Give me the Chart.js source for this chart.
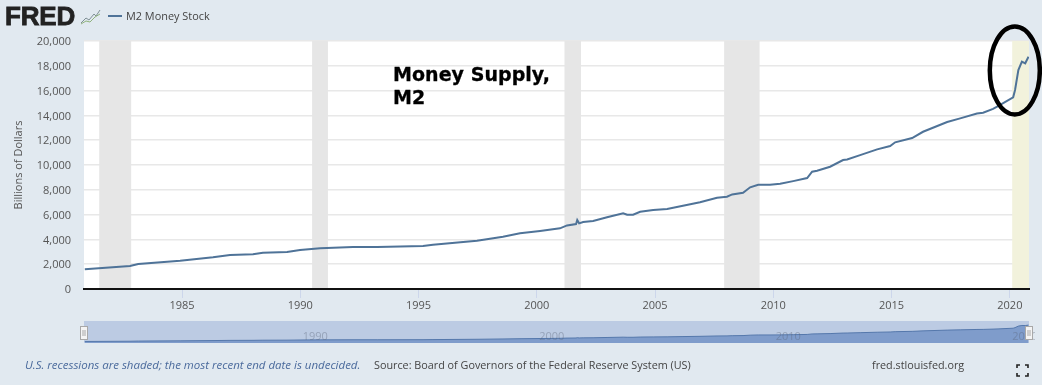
<!DOCTYPE html>
<html>
<head>
<meta charset="utf-8">
<title>M2 Money Stock</title>
<script src="https://cdn.jsdelivr.net/npm/chart.js@4"></script>
<style>
  html, body { margin: 0; padding: 0; background: #e1e9f0; }
  body { width: 1042px; height: 385px; position: relative; overflow: hidden; font-family: "Open Sans", sans-serif; }
  canvas { position: absolute; }
  #main-chart { left: 0; top: 0; }
  #nav-chart { left: 78px; top: 321px; }
  .txt { position: absolute; white-space: nowrap; }
  #logo { left: 5px; top: 1px; font: 900 26px/30px "Liberation Sans", sans-serif; color: #222; -webkit-text-stroke: 0.8px #222; letter-spacing: -0.2px; }
  #logo-icon { position: absolute; left: 80px; top: 8px; }
  #legend-line { position: absolute; left: 108px; top: 15px; width: 14px; height: 2px; background: #4f7398; }
  #legend-label { left: 126px; top: 8px; font-size: 10.9px; line-height: 16px; color: #444; }
  #note { left: 25px; top: 357px; font-size: 11.48px; line-height: 16px; font-style: italic; color: #4a6a9c; }
  #source { left: 374px; top: 357px; font-size: 10.8px; line-height: 16px; color: #444; }
  #site { left: 872px; top: 357px; font-size: 10.8px; line-height: 16px; color: #444; }
  #annotation { left: 393px; top: 63px; font: bold 19px/23px "DejaVu Sans", sans-serif; letter-spacing: 0.05px; color: #000; -webkit-text-stroke: 0.3px #000; }
  #full-icon { position: absolute; left: 1016px; top: 364px; }
</style>
</head>
<body>
<canvas id="main-chart" width="1042" height="385"></canvas>
<canvas id="nav-chart" width="957" height="22"></canvas>

<div class="txt" id="logo">FRED</div>
<svg id="logo-icon" width="21" height="17" viewBox="0 0 21 17">
  <polyline points="1,15 6,10 9,12 14,6 16,8 20,2" fill="none" stroke="#7f8f95" stroke-width="1"/>
  <polyline points="1,16 6,13 10,14 15,9 20,6" fill="none" stroke="#8fb27c" stroke-width="1"/>
</svg>
<div id="legend-line"></div>
<div class="txt" id="legend-label">M2 Money Stock</div>
<div class="txt" id="annotation">Money Supply,<br>M2</div>
<div class="txt" id="note">U.S. recessions are shaded; the most recent end date is undecided.</div>
<div class="txt" id="source">Source: Board of Governors of the Federal Reserve System (US)</div>
<div class="txt" id="site">fred.stlouisfed.org</div>
<svg id="full-icon" width="13" height="13" viewBox="0 0 13 13" fill="none" stroke="#222" stroke-width="1.6">
  <path d="M1 4V1H4M9 1H12V4M12 9V12H9M4 12H1V9"/>
</svg>

<script>
// Values
const years = [1980.89, 1982.80, 1983.15, 1984.92, 1986.31, 1987.03, 1988.00, 1988.42, 1989.44, 1989.99,
  1990.84, 1992.23, 1993.25, 1995.19, 1995.61, 1997.47, 1998.57, 1999.29, 2000.14, 2000.98,
  2001.28, 2001.66, 2001.71, 2001.79, 2001.96, 2002.38, 2002.97, 2003.65, 2003.82, 2004.07,
  2004.37, 2004.92, 2005.51, 2006.18, 2006.90, 2007.62, 2008.04, 2008.26, 2008.72, 2009.02,
  2009.36, 2009.86, 2010.29, 2010.84, 2011.43, 2011.64, 2011.85, 2012.40, 2012.95, 2013.12,
  2013.67, 2014.39, 2014.94, 2015.15, 2015.87, 2016.33, 2017.35, 2017.90, 2018.61, 2018.87,
  2019.29, 2019.50, 2020.14, 2020.22, 2020.36, 2020.51, 2020.65, 2020.79];
const m2Values = [1590, 1855, 2016, 2280, 2555, 2740, 2795, 2930, 2980, 3145,
  3280, 3385, 3385, 3470, 3570, 3895, 4215, 4490, 4675, 4890,
  5130, 5240, 5560, 5295, 5400, 5480, 5780, 6100, 5990, 5990,
  6230, 6370, 6450, 6715, 6990, 7360, 7440, 7630, 7765, 8200,
  8410, 8410, 8490, 8700, 8950, 9460, 9540, 9860, 10400, 10450,
  10800, 11260, 11530, 11830, 12170, 12680, 13470, 13760, 14160, 14220,
  14530, 14750, 15460, 16050, 17660, 18330, 18200, 18730];

const recessionStarts = [1981.50, 1990.50, 2001.17, 2007.92, 2020.10];
const recessionEnds = [1982.85, 1991.17, 2001.87, 2009.42, 2020.81];
const recessionColors = ['#e6e6e6', '#e6e6e6', '#e6e6e6', '#e6e6e6', '#f2f2dc'];

const xTickYears = [1985, 1990, 1995, 2000, 2005, 2010, 2015, 2020];
const yTicks = [0, 2000, 4000, 6000, 8000, 10000, 12000, 14000, 16000, 18000, 20000];
const navLabelYears = [1990, 2000, 2010, 2020];

const xMin = 1980.856;
const xMax = 2020.81;

const points = years.map((y, i) => ({ x: y, y: m2Values[i] }));

// Recession shading, behind the line
const recessionBands = {
    id: 'recessionBands',
    beforeDatasetsDraw(chart) {
        const { ctx, chartArea, scales } = chart;
        ctx.save();
        recessionStarts.forEach((start, i) => {
            const left = scales.x.getPixelForValue(start);
            const right = scales.x.getPixelForValue(recessionEnds[i]);
            ctx.fillStyle = recessionColors[i];
            ctx.fillRect(left, chartArea.top, right - left, chartArea.bottom - chartArea.top - 1);
        });
        ctx.restore();
    }
};

// Hand drawn circle around the latest jump
const circleMark = {
    id: 'circleMark',
    afterDraw(chart) {
        const { ctx, scales } = chart;
        ctx.save();
        ctx.strokeStyle = '#000';
        ctx.lineWidth = 4.5;
        ctx.beginPath();
        ctx.ellipse(scales.x.getPixelForValue(2020.21), scales.y.getPixelForValue(17630), 25, 44, 0, 0, Math.PI * 2);
        ctx.stroke();
        ctx.restore();
    }
};

new Chart(document.getElementById('main-chart'), {
    type: 'line',
    data: {
        datasets: [{
            label: 'M2 Money Stock',
            data: points,
            borderColor: '#4f7398',
            borderWidth: 2,
            pointRadius: 0,
            tension: 0
        }]
    },
    options: {
        responsive: false,
        animation: false,
        events: [],
        layout: { padding: { top: 41, right: 13 } },
        plugins: { legend: { display: false }, tooltip: { enabled: false } },
        scales: {
            x: {
                type: 'linear',
                min: xMin,
                max: xMax,
                afterFit: (s) => { s.height = 96; },
                afterBuildTicks: (s) => { s.ticks = xTickYears.map(v => ({ value: v })); },
                grid: { drawOnChartArea: false, tickLength: 9, tickColor: '#ccd6eb' },
                border: { color: '#111', width: 2 },
                ticks: {
                    maxRotation: 0,
                    padding: 1,
                    color: '#555',
                    font: { family: 'Open Sans', size: 11 },
                    callback: (v) => String(v)
                }
            },
            y: {
                min: 0,
                max: 20000,
                afterFit: (s) => { s.width = 84; },
                afterBuildTicks: (s) => { s.ticks = yTicks.map(v => ({ value: v })); },
                grid: { color: '#e8e8e8', lineWidth: 1.5, drawTicks: false },
                border: { display: false },
                title: {
                    display: true,
                    text: 'Billions of Dollars',
                    color: '#555',
                    font: { family: 'Open Sans', size: 11 },
                    padding: { top: 12, bottom: 0 }
                },
                ticks: {
                    padding: 13,
                    labelOffset: 1,
                    color: '#555',
                    font: { family: 'Open Sans', size: 11 },
                    callback: (v) => v.toLocaleString('en-US')
                }
            }
        }
    },
    plugins: [{
        id: 'plotBackground',
        beforeDraw(chart) {
            const { ctx, chartArea: a } = chart;
            ctx.save();
            ctx.fillStyle = '#fff';
            ctx.fillRect(a.left, a.top, a.right - a.left, a.bottom - a.top);
            ctx.restore();
        }
    }, recessionBands, circleMark]
});

// Faded year labels and the two range handles of the navigator
const navExtras = {
    id: 'navExtras',
    afterDatasetsDraw(chart) {
        const { ctx, scales, chartArea: a } = chart;
        ctx.save();
        ctx.font = '11px "Open Sans"';
        ctx.fillStyle = 'rgba(90,100,120,0.4)';
        ctx.textAlign = 'center';
        ctx.textBaseline = 'middle';
        navLabelYears.forEach(v => ctx.fillText(String(v), scales.x.getPixelForValue(v) + 15, 16));
        [a.left, a.right].forEach(x => {
            ctx.fillStyle = '#f4f4f4';
            ctx.strokeStyle = '#a8a8a8';
            ctx.lineWidth = 1;
            const l = Math.round(x) - 3.5;
            ctx.fillRect(l, 5.5, 7, 13);
            ctx.strokeRect(l, 5.5, 7, 13);
            ctx.beginPath();
            ctx.moveTo(l + 2.5, 9); ctx.lineTo(l + 2.5, 15);
            ctx.moveTo(l + 4.5, 9); ctx.lineTo(l + 4.5, 15);
            ctx.stroke();
        });
        ctx.restore();
    }
};

new Chart(document.getElementById('nav-chart'), {
    type: 'line',
    data: {
        datasets: [{
            data: points,
            borderColor: '#5578ac',
            borderWidth: 1,
            backgroundColor: '#7f9ccb',
            fill: 'origin',
            pointRadius: 0,
            tension: 0
        }]
    },
    options: {
        responsive: false,
        animation: false,
        events: [],
        layout: { padding: { left: 6, right: 6 } },
        plugins: {
            legend: { display: false },
            tooltip: { enabled: false }
        },
        scales: {
            x: { type: 'linear', display: false, min: xMin, max: xMax },
            y: { display: false, min: 0, max: 23000 }
        }
    },
    plugins: [{
        id: 'navBackground',
        beforeDraw(chart) {
            const { ctx, chartArea: a } = chart;
            ctx.save();
            ctx.fillStyle = '#bccbe3';
            ctx.fillRect(a.left, a.top, a.right - a.left, a.bottom - a.top);
            ctx.restore();
        }
    }, navExtras]
});
</script>
</body>
</html>
